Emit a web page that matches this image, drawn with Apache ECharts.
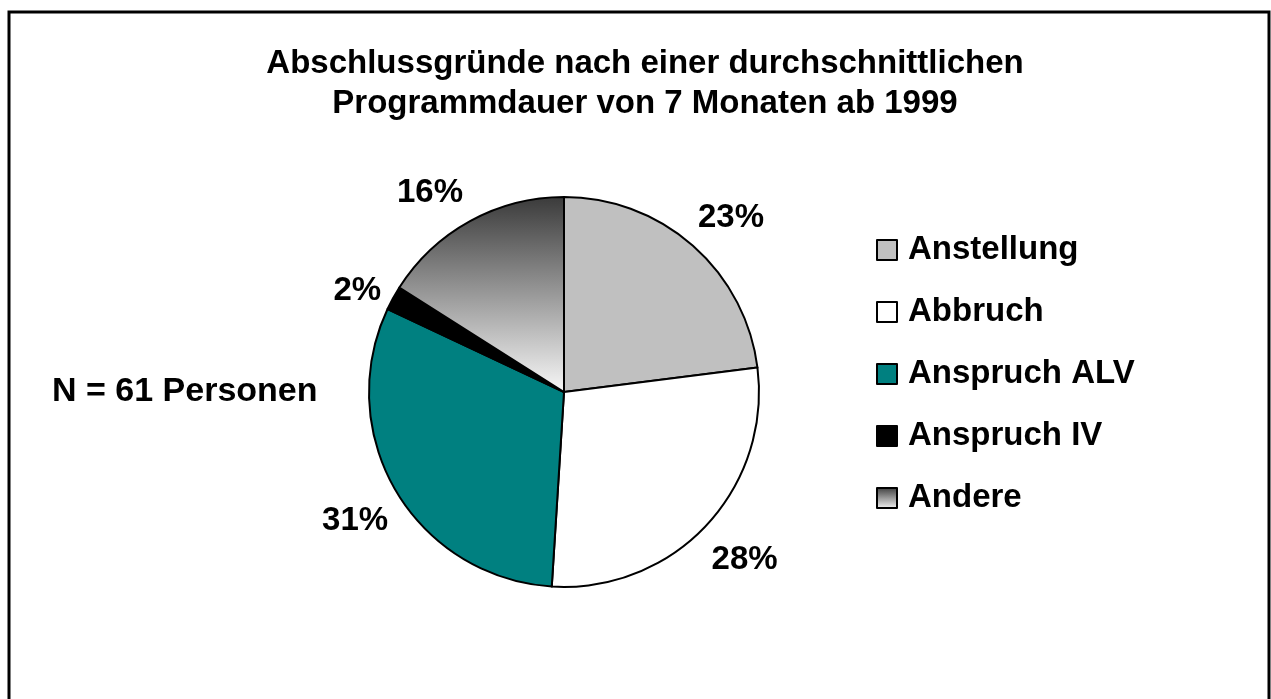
<!DOCTYPE html>
<html>
<head>
<meta charset="utf-8">
<script src="https://cdn.jsdelivr.net/npm/echarts@6/dist/echarts.min.js"></script>
<style>
  html, body { margin: 0; padding: 0; background: #fff; }
  #chart { width: 1271px; height: 699px; }
</style>
</head>
<body>
<div id="chart"></div>
<script>
// Abschlussgründe, Anteile in Prozent (N = 61)
var categories = ['Anstellung', 'Abbruch', 'Anspruch ALV', 'Anspruch IV', 'Andere'];
var shares = [23, 28, 31, 2, 16];
var colors = [
    '#c0c0c0',
    '#ffffff',
    '#008080',
    '#000000',
    new echarts.graphic.LinearGradient(0, 0, 0, 1, [
        { offset: 0, color: '#3a3a3a' },
        { offset: 1, color: '#f8f8f8' }
    ])
];
// small label nudges so the percentages sit like the Excel original
var labelNudge = [[5, 10], [2, 0], [2, 4], [8, 17], [-16, 16]];

var font = '"Liberation Sans", Arial, sans-serif';
var myChart = echarts.init(document.getElementById('chart'));

var pieData = [];
var labelData = [];
for (var i = 0; i < categories.length; i++) {
    pieData.push({
        name: categories[i],
        value: shares[i],
        itemStyle: { color: colors[i] }
    });
    labelData.push({
        name: categories[i],
        value: shares[i],
        label: { offset: labelNudge[i] }
    });
}

myChart.setOption({
    backgroundColor: '#fff',
    animation: false,
    title: {
        text: 'Abschlussgründe nach einer durchschnittlichen\nProgrammdauer von 7 Monaten ab 1999',
        left: 640,
        textAlign: 'center',
        top: 39,
        textStyle: {
            fontFamily: font,
            fontSize: 33,
            fontWeight: 'bold',
            color: '#000',
            lineHeight: 40
        }
    },
    legend: {
        orient: 'vertical',
        left: 871,
        top: 227,
        itemWidth: 20,
        itemHeight: 20,
        itemGap: 26,
        icon: 'rect',
        selectedMode: false,
        itemStyle: { borderColor: '#000', borderWidth: 2 },
        textStyle: {
            fontFamily: font,
            fontSize: 33,
            fontWeight: 'bold',
            color: '#000',
            lineHeight: 36,
            padding: [0, 0, 0, 6]
        },
        data: categories
    },
    graphic: [
        {
            type: 'rect',
            shape: { x: 9, y: 12, width: 1260, height: 700 },
            style: { fill: 'none', stroke: '#000', lineWidth: 3 },
            silent: true
        },
        {
            type: 'text',
            left: 52,
            top: 375,
            style: {
                text: 'N = 61 Personen',
                fontFamily: font,
                fontSize: 34,
                fontWeight: 'bold',
                fill: '#000'
            }
        }
    ],
    series: [{
        type: 'pie',
        center: [564, 392],
        radius: 195,
        startAngle: 90,
        clockwise: true,
        itemStyle: { borderColor: '#000', borderWidth: 2 },
        emphasis: { disabled: true },
        label: { show: false },
        labelLine: { show: false },
        data: pieData
    }, {
        // transparent ring, only carries the percentage labels around the pie
        type: 'pie',
        center: [564, 392],
        radius: [222, 262],
        startAngle: 90,
        clockwise: true,
        silent: true,
        percentPrecision: 0,
        itemStyle: { color: 'rgba(0,0,0,0)', borderWidth: 0 },
        emphasis: { disabled: true },
        label: {
            show: true,
            position: 'inside',
            formatter: '{d}%',
            fontFamily: font,
            fontSize: 33,
            fontWeight: 'bold',
            color: '#000'
        },
        labelLine: { show: false },
        data: labelData
    }]
});
</script>
</body>
</html>
